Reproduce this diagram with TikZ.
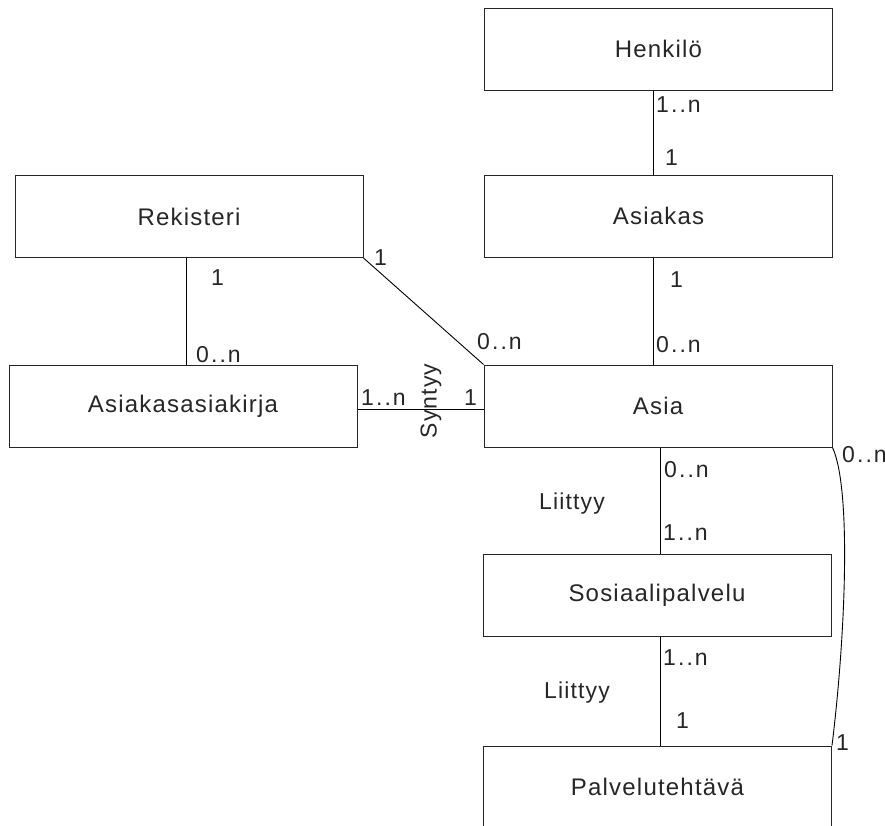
\documentclass[tikz,border=0pt]{standalone}
\usepackage{fontspec}
\setmainfont{Liberation Sans}[LetterSpace=5]
\newfontfamily\multfont{Liberation Sans}[LetterSpace=9]
\begin{document}
\begin{tikzpicture}[x=1pt,y=-1pt,
  entity/.style={draw=black!85, line width=1pt, minimum width=348pt,
    minimum height=82pt, inner sep=0pt, text=black!85,
    font=\fontsize{24}{28}\selectfont},
  link/.style={draw=black, line width=0.9pt},
  mult/.style={inner sep=0pt, text=black!85, anchor=base west,
    font=\multfont\fontsize{23}{26}\selectfont},
]
\useasboundingbox (0,0) rectangle (885,825);

% entities
\node[entity] (henk)    at (658.5,49)  {Henkilö};
\node[entity] (asiakas) at (658.5,216) {Asiakas};
\node[entity] (rek)     at (189,216.5) {Rekisteri};
\node[entity] (asak)    at (183,406)   {Asiakasasiakirja};
\node[entity] (asia)    at (658,406)   {Asia};
\node[entity] (sos)     at (657,595)   {Sosiaalipalvelu};
\node[entity] (palv)    at (657.5,787) {Palvelutehtävä};

% relationships
\draw[link] (henk.south -| 653,0) -- (asiakas.north -| 653,0);
\draw[link] (asiakas.south -| 653,0) -- (asia.north -| 653,0);
\draw[link] (rek.south -| 186,0) -- (asak.north -| 186,0);
\draw[link] (rek.south east) -- (asia.north west);
\draw[link] (asak.east |- 0,409) -- (asia.west |- 0,409);
\draw[link] (asia.south -| 660,0) -- (sos.north -| 660,0);
\draw[link] (sos.south -| 660,0) -- (palv.north -| 660,0);
\draw[link] (asia.south east) .. controls (852,490) and (845,640) .. (palv.north east);

% multiplicities and role names
\node[mult] (m1) at (656,112) {1..n};
\node[mult] (m2) at (665,165) {1};
\node[mult] (m3) at (670,287) {1};
\node[mult] (m4) at (656,352) {0..n};
\node[mult] (m5) at (211,285) {1};
\node[mult] (m6) at (196,362) {0..n};
\node[mult] (m7) at (374,265) {1};
\node[mult] (m8) at (477,349) {0..n};
\node[mult] (m9) at (361,405) {1..n};
\node[mult] (m10) at (464,405) {1};
\node[mult, rotate=90, anchor=center, font=\fontsize{23}{26}\selectfont] (syn) at (431,401) {Syntyy};
\node[mult, font=\fontsize{23}{26}\selectfont] (l1) at (539,509) {Liittyy};
\node[mult] (m11) at (664,477) {0..n};
\node[mult] (m12) at (663,540) {1..n};
\node[mult] (m13) at (663,665) {1..n};
\node[mult] (m14) at (676,728) {1};
\node[mult, font=\fontsize{23}{26}\selectfont] (l2) at (544,698) {Liittyy};
\node[mult] (m15) at (842,462) {0..n};
\node[mult] (m16) at (836,750) {1};
\end{tikzpicture}
\end{document}
